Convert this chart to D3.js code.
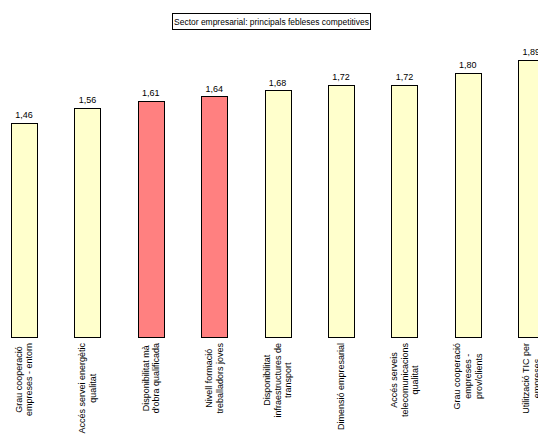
<!DOCTYPE html>
<html>
<head>
<meta charset="utf-8">
<script src="https://cdn.jsdelivr.net/npm/d3@7"></script>
<style>
  html, body { margin: 0; padding: 0; background: #fff; }
  svg { display: block; }
  text { font-family: "Liberation Sans", Arial, sans-serif; fill: #000; }
</style>
</head>
<body>
<svg id="chart" width="538" height="438"></svg>
<script>
const title = "Sector empresarial: principals febleses competitives";
const categories = [
  ["Grau cooperació", "empreses - entorn"],
  ["Accés servei energètic", "qualitat"],
  ["Disponibilitat mà", "d'obra qualificada"],
  ["Nivell formació", "treballadors joves"],
  ["Disponibilitat", "infraestructures de", "transport"],
  ["Dimensió empresarial"],
  ["Accés serveis", "telecomunicacions", "qualitat"],
  ["Grau cooperació", "empreses -", "prov/clients"],
  ["Utilització TIC per", "empreses"]
];
const values = [1.46, 1.56, 1.61, 1.64, 1.68, 1.72, 1.72, 1.80, 1.89];
const highlighted = [false, false, true, true, false, false, false, false, false];
const valueLabels = ["1,46", "1,56", "1,61", "1,64", "1,68", "1,72", "1,72", "1,80", "1,89"];

const svg = d3.select("#chart");
const baseY = 336.5;
const ids = categories.map((c, i) => i);

const x = d3.scaleBand()
  .domain(ids)
  .range([-7.7, -7.7 + 9 * 63.4])
  .paddingInner(0.59)
  .paddingOuter(0.295);

const y = d3.scaleLinear().domain([0, 2]).range([baseY, baseY - 293]);

// Title with box
const tg = svg.append("g");
tg.append("rect")
  .attr("x", 172.5).attr("y", 13.5)
  .attr("width", 198).attr("height", 16)
  .attr("fill", "#fff").attr("stroke", "#000").attr("stroke-width", 1);
const tt = tg.append("text")
  .attr("x", 271.5).attr("y", 24.5)
  .attr("text-anchor", "middle")
  .style("font-size", "9px")
  .text(title);
const tw = tt.node().getComputedTextLength();
tt.style("font-size", (9 * 195 / tw).toFixed(2) + "px");

// Bars
svg.append("g").selectAll("rect")
  .data(ids)
  .join("rect")
  .attr("x", i => Math.round(x(i)) + 0.5)
  .attr("y", i => Math.round(y(values[i])) + 0.5)
  .attr("width", Math.round(x.bandwidth()))
  .attr("height", i => Math.round(baseY) - Math.round(y(values[i])))
  .attr("fill", i => highlighted[i] ? "#FF8080" : "#FFFFCC")
  .attr("stroke", "#000")
  .attr("stroke-width", 1);

// Value labels
svg.append("g").selectAll("text")
  .data(ids)
  .join("text")
  .attr("x", i => x(i) + x.bandwidth() / 2)
  .attr("y", i => y(values[i]) - 4.5)
  .attr("text-anchor", "middle")
  .style("font-size", "9px")
  .text(i => valueLabels[i]);

// Category labels (rotated, multi-line, centered lines)
const lineH = 10.6;
const lg = svg.append("g");
ids.forEach(i => {
  const lines = categories[i];
  const g = lg.append("g")
    .attr("transform", `translate(${x(i) + x.bandwidth() / 2},${343})rotate(-90)`);
  const texts = lines.map((ln, k) => g.append("text")
    .attr("y", (k - (lines.length - 1) / 2) * lineH)
    .attr("dy", "0.35em")
    .attr("text-anchor", "middle")
    .style("font-size", "9px")
    .text(ln));
  const L = d3.max(texts, t => t.node().getComputedTextLength());
  texts.forEach(t => t.attr("x", -L / 2));
});
</script>
</body>
</html>
